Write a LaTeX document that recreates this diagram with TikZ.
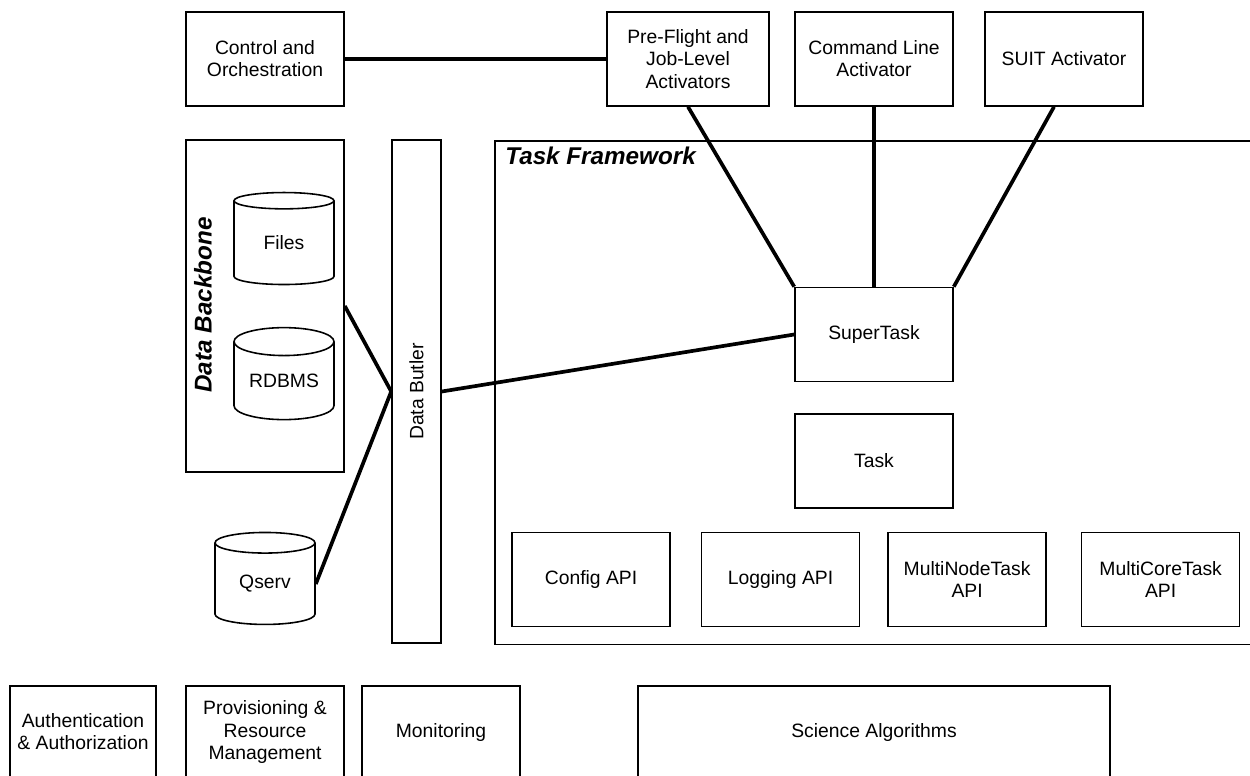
\documentclass[tikz,border=0pt]{standalone}
\usepackage{fontspec}
\setmainfont{Liberation Sans}
\usetikzlibrary{shapes}
\usetikzlibrary{calc}
\usetikzlibrary{positioning}

\begin{document}
\begin{tikzpicture}[x=0.02cm, y=-0.02cm,
-,
boxnode/.style = {align=center, minimum width=3.16cm, minimum height=1.88cm, inner sep=0pt, text centered, font=\fontsize{11}{12.6}\selectfont},
box_n/.style = {boxnode, rectangle, draw=black, line width=0.9pt},
db_n/.style = {boxnode, cylinder, shape border rotate=90, aspect=0.4, draw=black, line width=0.9pt, minimum width=2cm, minimum height=1.84cm},
frame_n/.style = {rectangle, draw=black, line width=0.9pt, inner sep=0pt},
title_n/.style = {font=\fontsize{13.8}{16}\selectfont\bfseries\itshape, inner sep=0pt},
link/.style = {line width=2.1pt}
]
\clip (0,0) rectangle (1250,776);

% activators
\node (ctrl) [box_n] at (265,59) {Control and\\Orchestration};
\node (pre) [box_n, minimum width=3.24cm] at (688,59) {Pre-Flight and\\Job-Level\\Activators};
\node (cmd) [box_n] at (874,59) {Command Line\\Activator};
\node (suit) [box_n] at (1064,59) {SUIT Activator};

% data side
\node (backbone) [frame_n, minimum width=3.16cm, minimum height=6.64cm] at (265,306) {};
\node (bbtitle) [title_n, rotate=90] at (203,305) {Data Backbone};
\node (files) [db_n] at (284,243) {Files};
\node (rdbms) [db_n] at (284,381) {RDBMS};
\node (qserv) [db_n] at (265,584) {Qserv};
\node (butler) [box_n, minimum width=0.98cm, minimum height=10.06cm] at (416.5,391.5) {\rotatebox{90}{Data Butler}};

% task framework
\node (tf) [frame_n, minimum width=15.5cm, minimum height=10.08cm, anchor=north west] at (494,140) {};
\node (tftitle) [title_n, anchor=base west] at (505,165) {Task Framework};
\node (super) [box_n] at (874,334.5) {SuperTask};
\node (task) [box_n, below = 0.62cm of super] {Task};
\node (config) [box_n] at (591,579.5) {Config API};
\node (logging) [box_n, right = 0.6cm of config] {Logging API};
\node (mnode) [box_n, right = 0.54cm of logging] {MultiNodeTask\\API};
\node (mcore) [box_n, right = 0.68cm of mnode] {MultiCoreTask\\API};

% bottom row
\node (auth) [box_n, minimum width=2.92cm, minimum height=1.84cm] at (83,732) {Authentication\\\& Authorization};
\node (prov) [box_n, minimum height=1.84cm] at (265,732) {Provisioning \&\\Resource\\Management};
\node (mon) [box_n, minimum height=1.84cm] at (441,732) {Monitoring};
\node (sci) [box_n, minimum width=9.44cm, minimum height=1.84cm] at (874,732) {Science Algorithms};

\draw [link] (ctrl) -- (pre);
\draw [link] (pre.south) -- (super.north west);
\draw [link] (cmd) -- (super);
\draw [link] ([xshift=-0.2cm]suit.south) -- (super.north east);
\draw [link] (butler.east) -- (super.west);
\draw [link] (backbone.east) -- (butler.west);
\draw [link] (qserv.east) -- (butler.west);
\end{tikzpicture}
\end{document}
